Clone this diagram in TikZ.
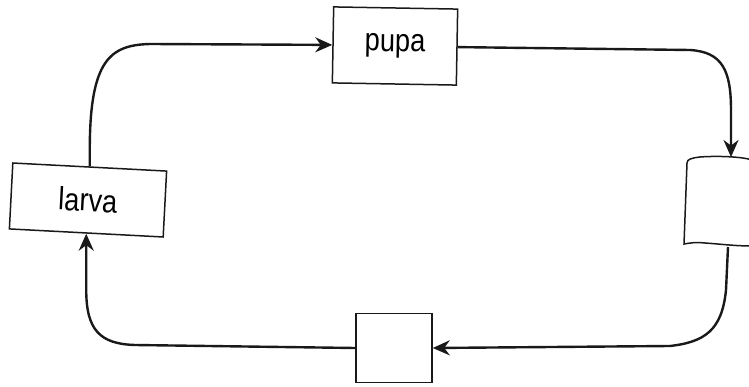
\documentclass[tikz,border=0pt]{standalone}
\usepackage{fontspec}
\newfontfamily\labfont[FakeStretch=0.85]{Liberation Sans}
\usetikzlibrary{arrows.meta}
\begin{document}
\begin{tikzpicture}[x=1pt,y=-1pt,
  boxline/.style={draw=black!90, line width=1.5pt},
  stagebox/.style={boxline, rectangle, inner sep=0pt, font=\labfont\fontsize{32}{34}\selectfont},
  flow/.style={draw=black!90, line width=2.4pt, -{Stealth[length=17pt,width=15pt]}}]
\useasboundingbox (0,0) rectangle (749,387);
\clip (0,0) rectangle (749,387);
\node[stagebox, minimum width=154pt, minimum height=66pt, rotate=-3] (larva) at (88,200) {larva};
\node[stagebox, minimum width=124pt, minimum height=76pt, rotate=-1] (pupa) at (395,46) {pupa};
\node[stagebox, minimum width=76pt, minimum height=69pt] (egg) at (394,348) {};
\node[rectangle, minimum width=64pt, minimum height=86pt, inner sep=0pt] (adult) at (717,202) {};
\coordinate (adulttop) at (731,157);
\coordinate (adultbot) at (728,247);
\draw[boxline] (752,160) .. controls (740,156) and (712,156) .. (700,157)
  .. controls (692,158) and (687,159) .. (687,163) -- (684,244)
  .. controls (690,243) and (695,242) .. (705,243)
  .. controls (720,244) and (735,246) .. (752,246);
\draw[flow] (larva.north) -- (larva.north |- 0,150) .. controls (larva.north |- 0,60) and (110,45) .. (150,44) -- (pupa.west);
\draw[flow] (pupa.east) -- (690,50) .. controls (722,52) and (731,70) .. (731,110) -- (adulttop);
\draw[flow] (adultbot) -- (726,290) .. controls (722,330) and (705,342) .. (670,346) -- (egg.east);
\draw[flow] (egg.west) -- (135,345) .. controls (100,344) and (larva.south |- 0,330) .. (larva.south |- 0,290) -- (larva.south);
\end{tikzpicture}
\end{document}
